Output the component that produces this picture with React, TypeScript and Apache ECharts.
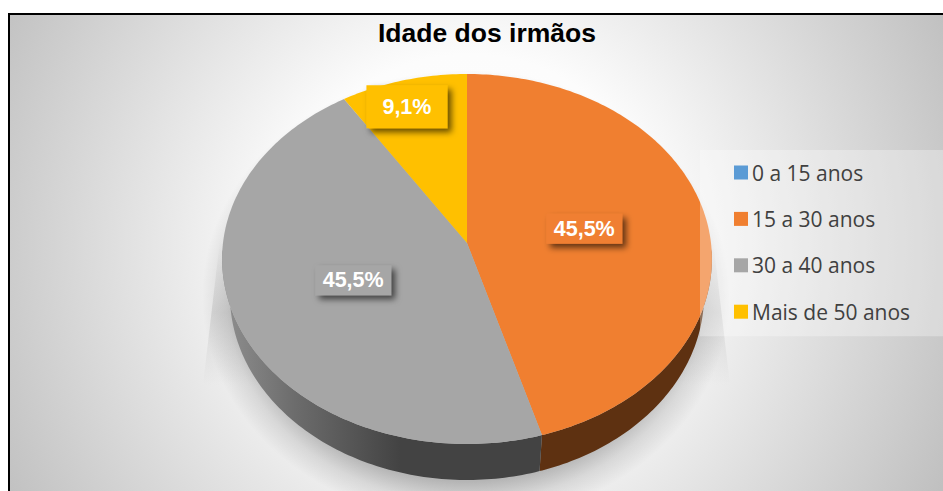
import React, { useEffect, useRef } from "react";
import * as echarts from "echarts";

const categories = ["0 a 15 anos", "15 a 30 anos", "30 a 40 anos", "Mais de 50 anos"];
const shares = [0, 45.5, 45.5, 9.1];
const colors = ["#5b9bd5", "#f07f30", "#a6a6a6", "#ffc000"];
const sideColors = ["#2e4f6e", "#5e3111", "#555555", "#7f6000"];
const titleText = "Idade dos irmãos";

// projection of the tilted disc
const APEX_X = 467, APEX_Y = 243, B = 244, A = 183.6, K = 0.0865, DEPTH = 36, BASE_SHRINK = 0.968;
const labelSpots = [null, { r: 0.49, dt: -1 }, { r: 0.5, dt: 1 }, { r: 0.835, dt: -2 }];
const total = shares.reduce((a, b) => a + b, 0);

function project(tDeg: number, r = 1) {
  const t = (tDeg * Math.PI) / 180;
  const u = r * Math.sin(t), v = r * Math.cos(t);
  const d = 1 + K * v;
  return [APEX_X + (B * u) / d, APEX_Y - (A * v) / d];
}
function projectBase(tDeg: number) {
  const [x, y] = project(tDeg);
  return [APEX_X + (x - APEX_X) * BASE_SHRINK, y + DEPTH];
}
function range(a: number, b: number) {
  const out: number[] = [];
  for (let t = a; t < b; t += 1) out.push(t);
  out.push(b);
  return out;
}

function renderSlice(index: number) {
  return (_params: any, _api: any) => {
    const value = shares[index];
    if (!value) return { type: "group", children: [] };
    const start = (shares.slice(0, index).reduce((a, b) => a + b, 0) / total) * 360;
    const end = start + (value / total) * 360;
    const children: any[] = [];
    const s0 = Math.max(start, 92), s1 = Math.min(end, 268);
    if (s1 > s0) {
      const ts = range(s0, s1);
      const pts = [...ts.map((t) => project(t)), ...ts.slice().reverse().map((t) => projectBase(t))];
      const fill = index === 2
        ? new echarts.graphic.LinearGradient(225, 0, 400, 0, [
            { offset: 0, color: "#8e8e8e" },
            { offset: 0.4, color: "#6c6c6c" },
            { offset: 1, color: "#434343" },
          ], true)
        : sideColors[index];
      children.push({ type: "polygon", shape: { points: pts }, style: { fill } });
    }
    const top = [[APEX_X, APEX_Y], ...range(start, end).map((t) => project(t))];
    children.push({ type: "polygon", shape: { points: top }, style: { fill: colors[index] } });
    const spot = labelSpots[index]!;
    const [lx, ly] = project((start + end) / 2 + spot.dt, spot.r);
    const text = value.toFixed(1).replace(".", ",") + "%";
    const w = index === 3 ? 81 : 76, h = index === 3 ? 43 : 30;
    children.push({
      type: "rect",
      shape: { x: lx - w / 2, y: ly - h / 2, width: w, height: h },
      style: { fill: colors[index], shadowColor: "rgba(0,0,0,0.6)", shadowBlur: 6, shadowOffsetX: 4, shadowOffsetY: 4 },
    });
    children.push({
      type: "text",
      style: {
        x: lx, y: ly, text, fill: "#ffffff", align: "center", verticalAlign: "middle",
        font: 'bold 21.5px "Liberation Sans", Arial, sans-serif',
      },
    });
    return { type: "group", children };
  };
}

export default function App() {
  const ref = useRef<HTMLDivElement>(null);
  useEffect(() => {
    const chart = echarts.init(ref.current!, undefined, { renderer: "svg" });
    const coneFill = () =>
      new echarts.graphic.LinearGradient(0, 0, 0, 1, [
        { offset: 0, color: "rgba(190,190,190,0)" },
        { offset: 0.5, color: "rgba(190,190,190,0.45)" },
        { offset: 1, color: "rgba(190,190,190,0)" },
      ]);
    chart.setOption({
      animation: false,
      title: {
        text: titleText, left: 378, top: 19,
        textStyle: { fontFamily: '"Liberation Sans", Arial, sans-serif', fontWeight: "bold", fontSize: 26.5, color: "#000000" },
        padding: 0,
      },
      legend: {
        data: categories, orient: "vertical", left: 700, top: 150, icon: "rect",
        itemWidth: 14, itemHeight: 14, itemGap: 25.4, selectedMode: false,
        padding: [12, 33, 14, 34], backgroundColor: "rgba(255,255,255,0.3)", inactiveColor: "#404040",
        textStyle: { fontFamily: '"Open Sans", sans-serif', fontSize: 21, lineHeight: 19.4, color: "#404040", padding: [0, 0, 0, -1] },
      },
      graphic: [
        {
          type: "rect", z: -10, silent: true,
          shape: { x: 9, y: 14, width: 960, height: 500 },
          style: {
            fill: new echarts.graphic.RadialGradient(470, 245, 530, [
              { offset: 0, color: "#ffffff" },
              { offset: 0.36, color: "#fcfcfc" },
              { offset: 1, color: "#c0c0c0" },
            ], true),
            stroke: "#000000", lineWidth: 2,
          },
        },
        {
          type: "polygon", z: -9, silent: true,
          shape: { points: [[220, 240], [203, 385], [290, 385], [290, 240]] },
          style: { fill: coneFill() },
        },
        {
          type: "polygon", z: -9, silent: true,
          shape: { points: [[713, 240], [730, 385], [640, 385], [640, 240]] },
          style: { fill: coneFill() },
        },
        {
          type: "ellipse", z: -8, silent: true,
          shape: { cx: 466, cy: 296, rx: 264, ry: 226 },
          style: {
            fill: new echarts.graphic.RadialGradient(0.5, 0.5, 0.5, [
              { offset: 0, color: "rgba(0,0,0,0.28)" },
              { offset: 0.82, color: "rgba(0,0,0,0.26)" },
              { offset: 0.91, color: "rgba(0,0,0,0.1)" },
              { offset: 1, color: "rgba(0,0,0,0)" },
            ]),
          },
        },
      ],
      series: categories.map((name, i) => ({
        type: "custom",
        name,
        coordinateSystem: "none",
        silent: true,
        itemStyle: { color: colors[i] },
        data: [shares[i]],
        renderItem: renderSlice(i),
      })),
    });
    return () => chart.dispose();
  }, []);
  return <div ref={ref} style={{ position: "fixed", left: 0, top: 0, width: 943, height: 491, background: "#ffffff" }} />;
}
